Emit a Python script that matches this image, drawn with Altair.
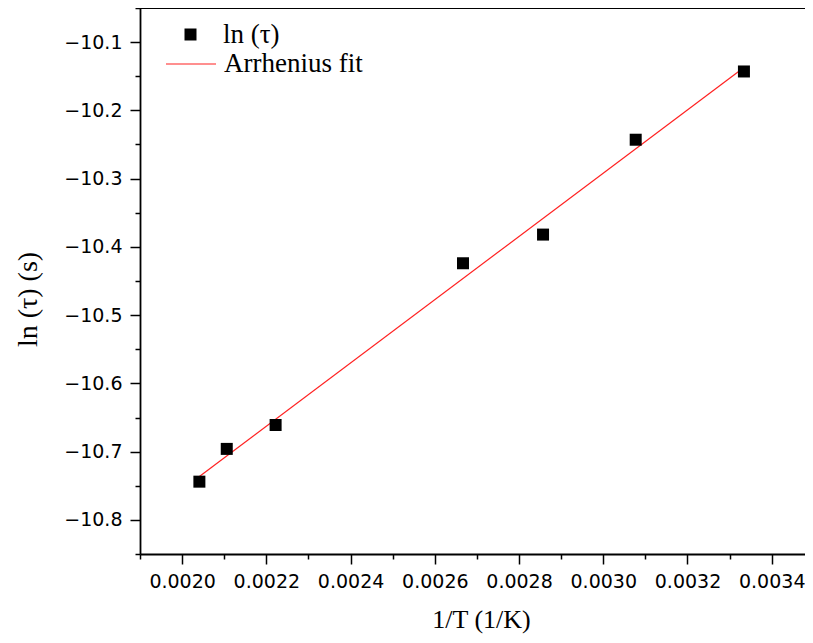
import altair as alt
import pandas as pd

# Data
inv_T = [0.002041, 0.002106, 0.002222, 0.002667, 0.002857, 0.003077, 0.003334]
ln_tau = [-10.744, -10.696, -10.661, -10.424, -10.382, -10.243, -10.143]
series_pts = ["ln (τ)"] * len(inv_T)

x_major = [0.0020, 0.0022, 0.0024, 0.0026, 0.0028, 0.0030, 0.0032, 0.0034]
x_minor = [0.0019, 0.0021, 0.0023, 0.0025, 0.0027, 0.0029, 0.0031, 0.0033]
y_major = [-10.8, -10.7, -10.6, -10.5, -10.4, -10.3, -10.2, -10.1]
y_minor = [-10.85, -10.75, -10.65, -10.55, -10.45, -10.35, -10.25, -10.15, -10.05]

x_domain = [0.0019, 0.003479]
y_domain = [-10.85, -10.05]

W, H = 665, 546

df = pd.DataFrame({"x": inv_T, "y": ln_tau, "s": series_pts})

sans = "DejaVu Sans"
serif = "Liberation Serif"

xscale = alt.Scale(domain=x_domain, nice=False, zero=False)
yscale = alt.Scale(domain=y_domain, nice=False, zero=False)

base = alt.Chart(df)

x_axis_major = alt.Axis(
    orient="bottom", values=x_major, format=".4f", grid=False,
    tickSize=10, tickWidth=1.5, tickColor="black",
    domainColor="black", domainWidth=1.8,
    labelFont=sans, labelFontSize=19, labelColor="black", labelPadding=8,
    labelFlush=False, labelOverlap=False,
    title="1/T (1/K)", titleFont=serif, titleFontSize=26, titleFontWeight="normal",
    titleColor="black", titleX=341, titleY=73, titleAlign="center",
    titleBaseline="alphabetic",
)
y_axis_major = alt.Axis(
    orient="left", values=y_major, format=".1f", grid=False,
    tickSize=10, tickWidth=1.5, tickColor="black",
    domainColor="black", domainWidth=1.8,
    labelFont=sans, labelFontSize=19, labelColor="black", labelPadding=8,
    labelFlush=False, labelOverlap=False,
    title="ln (τ) (s)", titleFont=serif, titleFontSize=28, titleFontWeight="normal",
    titleColor="black", titleX=-112, titleY=291, titleAlign="center",
    titleBaseline="middle", titleAngle=270,
)

points = base.mark_point(filled=True, size=144, opacity=1, color="black").encode(
    x=alt.X("x:Q", scale=xscale, axis=x_axis_major),
    y=alt.Y("y:Q", scale=yscale, axis=y_axis_major),
    shape=alt.Shape(
        "s:N",
        scale=alt.Scale(domain=["ln (τ)"], range=["square"]),
        legend=alt.Legend(
            orient="none", legendX=37, legendY=13, title=None, padding=0,
            symbolSize=144, symbolFillColor="black", symbolStrokeColor="black",
            symbolStrokeWidth=0, symbolOpacity=1,
            labelFont=serif, labelFontSize=27, labelColor="black", labelOffset=19,
        ),
    ),
)

fit = (
    base.transform_regression("x", "y")
    .transform_calculate(s="'Arrhenius fit'")
    .mark_line(strokeWidth=1.2)
    .encode(
        x=alt.X("x:Q", scale=xscale, axis=None),
        y=alt.Y("y:Q", scale=yscale, axis=None),
        color=alt.Color(
            "s:N",
            scale=alt.Scale(domain=["Arrhenius fit"], range=["#ff2020"]),
            legend=alt.Legend(
                orient="none", legendX=25, legendY=30, title=None, padding=0,
                symbolType="stroke", symbolSize=2500, symbolStrokeWidth=1.2,
                labelFont=serif, labelFontSize=27, labelColor="black", labelOffset=7,
            ),
        ),
    )
)

minor = base.mark_point(opacity=0).encode(
    x=alt.X("x:Q", scale=xscale, axis=alt.Axis(
        orient="bottom", values=x_minor, labels=False, domain=False, grid=False,
        tickSize=5, tickWidth=1.5, tickColor="black", title=None)),
    y=alt.Y("y:Q", scale=yscale, axis=alt.Axis(
        orient="left", values=y_minor, labels=False, domain=False, grid=False,
        tickSize=5, tickWidth=1.5, tickColor="black", title=None)),
)

top = base.mark_rule(color="black", strokeWidth=1.8).encode(
    x=alt.value(0), x2=alt.value(W), y=alt.value(0)
)

chart = (
    alt.layer(minor, fit, points, top)
    .resolve_axis(x="independent", y="independent")
    .resolve_legend(shape="independent", color="independent")
    .properties(
        width=W, height=H,
        autosize=alt.AutoSizeParams(type="none"),
        padding={"left": 132, "top": 0, "right": 0, "bottom": 81},
    )
    .configure_view(stroke=None)
    .configure(background="white")
)

chart.save("out.html", embed_options={"renderer": "svg", "actions": False})
